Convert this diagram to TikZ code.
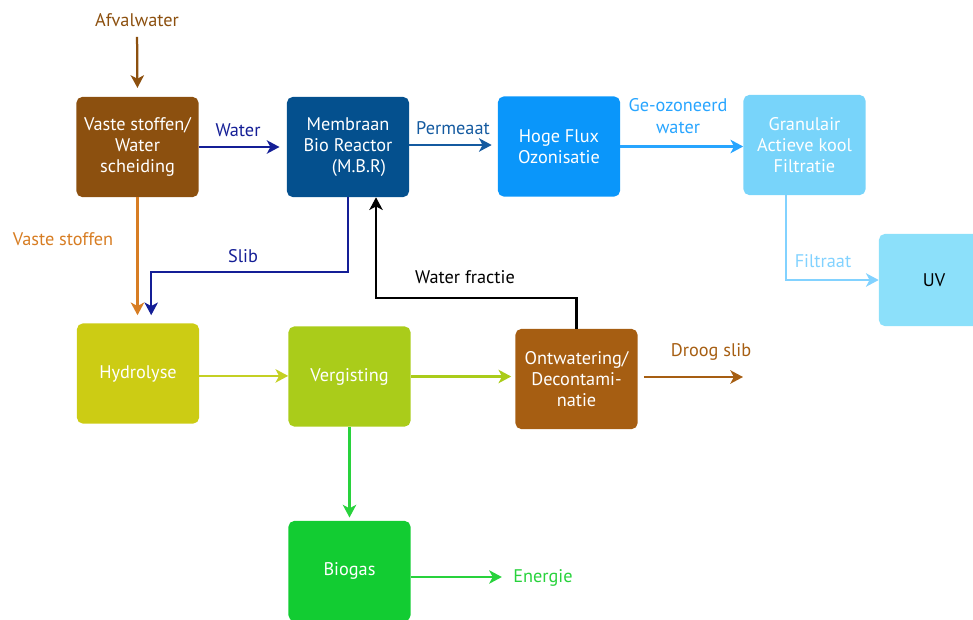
\documentclass[tikz,border=0pt]{standalone}
\usepackage{fontspec}
\setmainfont{PT Sans}
\usepackage{xcolor}
\definecolor{brown-800}{RGB}{140,80,15}
\definecolor{brown-600}{RGB}{166,94,18}
\definecolor{orange-500}{RGB}{215,125,35}
\definecolor{navy-800}{RGB}{20,30,150}
\definecolor{blue-700}{RGB}{4,80,142}
\definecolor{blue-600}{RGB}{20,90,160}
\definecolor{azure-500}{RGB}{10,150,250}
\definecolor{azure-400}{RGB}{40,165,255}
\definecolor{sky-300}{RGB}{120,212,250}
\definecolor{sky-200}{RGB}{140,224,250}
\definecolor{sky-arrow}{RGB}{130,210,255}
\definecolor{olive-500}{RGB}{204,204,20}
\definecolor{olive-arrow}{RGB}{196,208,36}
\definecolor{lime-500}{RGB}{170,204,26}
\definecolor{green-500}{RGB}{18,204,50}
\definecolor{green-400}{RGB}{40,210,60}
\usepackage{tikz}
\usetikzlibrary{arrows.meta,calc}

\begin{document}
\begin{tikzpicture}[
    x=0.025cm, y=-0.025cm,
    every node/.style={inner sep=0pt, font=\fontsize{13}{15.2}\selectfont},
    stage/.style={rounded corners=4pt, minimum width=3.05cm, minimum height=2.5cm, align=center, text=white},
    flow/.style={line width=1.6pt, -{Stealth[length=9pt,width=9.5pt,inset=2.5pt]}}
]

% Canvas
\useasboundingbox (0,0) rectangle (973,619);
\clip (0,0) rectangle (973,619);

% Process stages, top row
\node[stage, fill=brown-800] (sep) at (137.5,147) {Vaste stoffen/\\Water\\scheiding};
\node[stage, fill=blue-700] (mbr) at (348,147) {Membraan\\Bio Reactor\\\hspace{1.2em}(M.B.R)};
\node[stage, fill=azure-500] (ozon) at (559,146.5) {Hoge Flux\\Ozonisatie};
\node[stage, fill=sky-300] (gak) at (804.5,145) {Granulair\\Actieve kool\\Filtratie};
\node[stage, fill=sky-200, text=black, minimum width=2.75cm, minimum height=2.3cm] (uv) at (934,280) {UV};

% Process stages, sludge line
\node[stage, fill=olive-500] (hydro) at (138,373.5) {Hydrolyse};
\node[stage, fill=lime-500] (verg) at (349.5,376.5) {Vergisting};
\node[stage, fill=brown-600] (ontw) at (576.5,379) {Ontwatering/\\Decontami-\\natie};
\node[stage, fill=green-500] (biogas) at (349.5,571) {Biogas};

% Inputs and outputs
\node[text=brown-800] (afval) at (137,20) {Afvalwater};
\coordinate (slibout) at (743,377);
\coordinate (gasout) at ($(biogas.east)+(0,6)$);
\node[text=green-400] (energie) at (543,578) {Energie};

% Flow labels
\node[text=orange-500] at (63,239) {Vaste stoffen};
\node[text=navy-800] at (238,130) {Water};
\node[text=blue-600] at (453,128) {Permeaat};
\node[text=azure-400, align=center] at (678,116) {Ge-ozoneerd\\water};
\node[text=sky-arrow] at (823,261) {Filtraat};
\node[text=navy-800] at (243,256) {Slib};
\node at (465,277) {Water fractie};
\node[text=brown-600] at (711,352) {Droog slib};

% Water line
\draw[flow, brown-800, shorten <=0.25cm, shorten >=0.22cm] (afval.south) -- (sep.north);
\draw[flow, navy-800, shorten >=0.18cm] (sep.east) -- (sep.east -| mbr.west);
\draw[flow, blue-600, shorten >=0.15cm] ([yshift=0.05cm]mbr.east) -- ([yshift=0.05cm]mbr.east -| ozon.west);
\draw[flow, azure-400] (ozon.east) -- (ozon.east -| gak.west);
\draw[flow, sky-arrow] ([xshift=-0.46cm]gak.south) |- (uv.west);

% Sludge line
\draw[flow, orange-500, shorten >=0.2cm] (sep.south) -- (sep.south |- hydro.north);
\draw[flow, navy-800, shorten >=0.2cm] (mbr.south) -- ++(0,75) -| ([xshift=0.33cm]hydro.north);
\draw[flow, black] (ontw.north) -- ++(0,-31) -| ([xshift=0.7cm]mbr.south);
\draw[flow, olive-arrow] ([yshift=-0.06cm]hydro.east) -- ([yshift=-0.06cm]hydro.east -| verg.west);
\draw[flow, lime-500, shorten >=0.1cm] (verg.east) -- (verg.east -| ontw.west);
\draw[flow, brown-600, shorten <=0.15cm] (ontw.east |- slibout) -- (slibout);
\draw[flow, green-400, shorten >=0.08cm] (verg.south) -- (biogas.north);
\draw[flow, green-400, shorten >=0.28cm] (gasout) -- (gasout -| energie.west);

\end{tikzpicture}
\end{document}
